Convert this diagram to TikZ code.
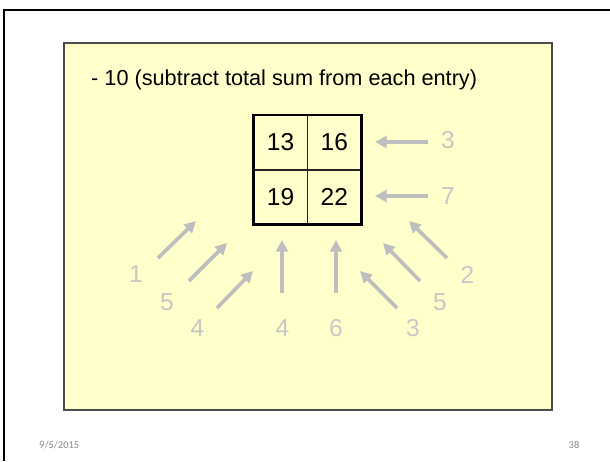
\documentclass[tikz,border=0pt]{standalone}
\usepackage{fontspec}
\setmainfont{Liberation Sans}
\newfontfamily\footfont{Carlito}
\usetikzlibrary{positioning}
\usetikzlibrary{arrows.meta}
\definecolor{slideyellow}{RGB}{255,255,204}
\definecolor{arrowgray}{RGB}{190,190,190}
\definecolor{labelgray}{RGB}{200,200,200}
\definecolor{footgray}{RGB}{137,137,137}

\begin{document}
\begin{tikzpicture}[x=1pt,y=-1pt,
    cell/.style={draw=black!85, line width=0.8pt, minimum width=53pt, minimum height=54pt, inner sep=0pt, font=\fontsize{24.5}{28}\selectfont},
    weight/.style={text=labelgray, inner sep=0pt, font=\fontsize{24.5}{28}\selectfont},
    push/.style={arrowgray, line width=3.6pt, -{Triangle[length=11.5pt,width=11.5pt]}},
    foot/.style={text=footgray, inner sep=0pt, font=\footfont\fontsize{10.5}{12}\selectfont}]
    \useasboundingbox (0,0) rectangle (610,461);

    % Slide frame
    \draw[line width=2pt] (4,461) -- (4,10) -- (610,10);

    % Yellow panel
    \draw[draw=black!70, line width=1.2pt, fill=slideyellow] (64,43) rectangle (552,410);
    \node[anchor=base west, inner sep=0pt, font=\fontsize{21.7}{25}\selectfont] (title) at (91,85) {- 10 (subtract total sum from each entry)};

    % Matrix
    \node[cell] (c11) at (280.5,142.5) {13};
    \node[cell, right=0pt of c11] (c12) {16};
    \node[cell, below=0pt of c11] (c21) {19};
    \node[cell, right=0pt of c21] (c22) {22};
    \draw[line width=2.6pt] (c11.north west) rectangle (c22.south east);

    % Row weights
    \node[weight] (r1) at (448,140) {3};
    \node[weight] (r2) at (448,196) {7};
    \coordinate (r1e) at (375,142);
    \coordinate (r2e) at (375,196);
    \draw[push, shorten <=13pt] (r1.west |- r1e) -- (r1e);
    \draw[push, shorten <=13pt] (r2.west |- r2e) -- (r2e);

    % Bottom weights
    \foreach \name/\sx/\sy/\ex/\ey/\lx/\ly/\val in {
        a/158/258/196/221/136/274.5/1,
        b/189/281/227/243/167/302/5,
        c/217/308/253/271/197.5/328/4,
        d/282/293/282/240/282.5/328/4,
        e/336/293/336/240/336/328/6,
        f/397/308/360/271/413/328/3,
        g/420/281/383/243/440/302/5,
        h/447/258/409/221/467.5/274.5/2} {
        \node[weight] (w\name) at (\lx,\ly) {\val};
        \coordinate (s\name) at (\sx,\sy);
        \coordinate (e\name) at (\ex,\ey);
        \draw[push] (s\name) -- (e\name);
    }

    % Footer
    \node[foot, anchor=west] (date) at (39,445) {9/5/2015};
    \node[foot] (page) at (574,445) {38};
\end{tikzpicture}
\end{document}
